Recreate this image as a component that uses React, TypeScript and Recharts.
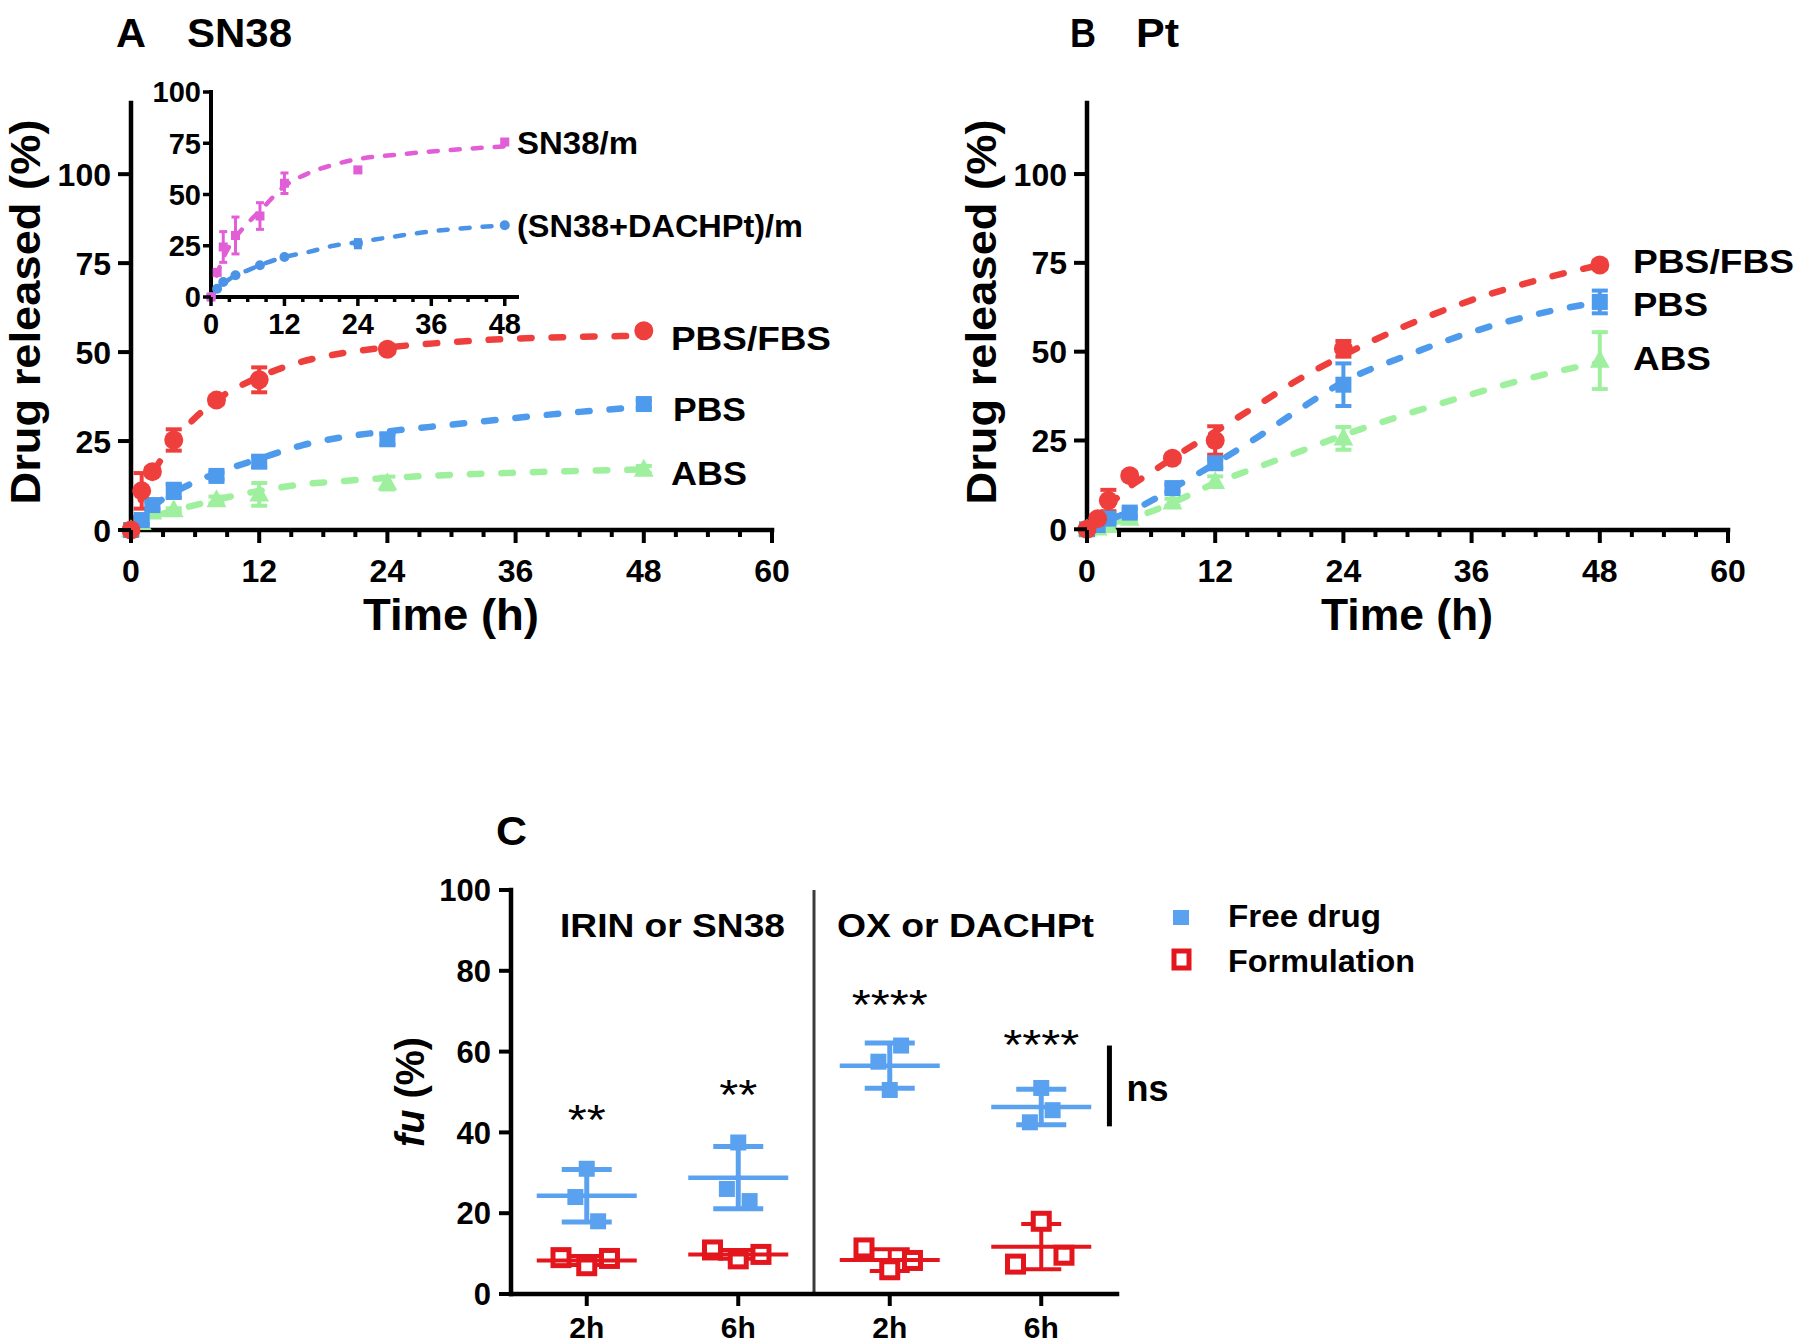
import React from 'react';
import { ComposedChart, Line, Scatter, XAxis, YAxis, ErrorBar, ReferenceLine } from 'recharts';

const FONT = "'Liberation Sans', Arial, Helvetica, sans-serif";
const W = 1800;
const H = 1344;

// ---------- Panel A (SN38) ----------
const TIME = [0, 1, 2, 4, 8, 12, 24, 48];
const A_PBSFBS = [0, 11, 16.4, 25.3, 36.5, 42.2, 50.8, 56];
const A_PBSFBS_SD = [0, 5, 1, 3, 1, 3.5, 1, 1];
const A_PBS = [0, 2.8, 7, 11, 15.2, 19.2, 25.5, 35.4];
const A_PBS_SD = [0, 1, 1, 2, 1, 1.5, 1.5, 1];
const A_ABS = [0, 2, 5, 5.6, 8.4, 10, 13.2, 17];
const A_ABS_SD = [0, 0.5, 0.5, 0.5, 1, 3.2, 1.8, 1];

const FIT_T = [0, 1, 2, 4, 6, 8, 12, 16, 20, 24, 30, 36, 42, 48];
const A_FIT_PBSFBS = [0, 9, 15.5, 25, 31.5, 36.5, 43, 47.3, 49.8, 51.3, 52.8, 53.8, 54.3, 54.6];
const A_FIT_PBS = [0, 3.5, 6.5, 10.5, 13.5, 16, 20, 23.8, 26.2, 27.7, 29.6, 31.5, 33.2, 34.6];
const A_FIT_ABS = [0, 2, 3.5, 5.5, 7, 8.5, 11, 12.8, 13.8, 14.6, 15.5, 16.1, 16.6, 17];

// ---------- Inset (A) ----------
const IN_SN38 = [0, 12, 24.4, 30, 39.5, 55.5, 62, 75.6];
const IN_SN38_SD = [0, 1, 7.5, 9, 6.5, 5, 1, 1];
const IN_COMBO = [0, 4, 7.3, 10.6, 15.5, 19.5, 26, 35];
const IN_COMBO_SD = [0, 0.5, 0.5, 0.5, 0.5, 0.5, 2, 0.5];
const IN_FIT_SN38 = [0, 11, 19, 29, 36, 42, 54, 60.5, 64.5, 67.3, 69.3, 71, 72.3, 73.5];
const IN_FIT_COMBO = [0, 4, 6.5, 10.5, 13, 15.5, 19.5, 22, 25, 26.8, 29.5, 32, 33.7, 35];

// ---------- Panel B (Pt) ----------
const B_PBSFBS = [0, 3, 8.1, 15.1, 20, 25, 50.8, 74.4];
const B_PBSFBS_SD = [0, 1, 3, 1, 1, 4, 2.2, 1];
const B_PBS = [0, 1.2, 3, 4.7, 11.6, 18.6, 40.7, 64];
const B_PBS_SD = [0, 0.5, 1, 1, 1, 1.2, 6, 3.2];
const B_ABS = [0, 0.3, 1, 3, 7.6, 13.4, 25.6, 47.5];
const B_ABS_SD = [0, 0.5, 0.5, 0.5, 1, 1.5, 3.2, 8];
const B_FIT_PBSFBS = [0, 3.5, 6.5, 12, 16, 20, 27.5, 35, 42.5, 49, 57.5, 64.5, 70, 74.4];
const B_FIT_PBS = [0, 1, 2.5, 5, 8, 11.5, 18.5, 26, 34, 41.5, 49, 55.5, 60.5, 64];
const B_FIT_ABS = [0, 0.5, 1.5, 3, 5, 7.5, 13, 17.5, 22, 26.5, 32.5, 38, 43, 47];

const MAIN_X_TICKS = [0, 3, 6, 9, 12, 15, 18, 21, 24, 27, 30, 33, 36, 39, 42, 45, 48, 51, 54, 57, 60];
const MAIN_X_MAJOR = [0, 12, 24, 36, 48, 60];
const MAIN_Y_TICKS = [0, 25, 50, 75, 100];
const IN_X_TICKS = [0, 3, 6, 9, 12, 15, 18, 21, 24, 27, 30, 33, 36, 39, 42, 45, 48];
const IN_X_MAJOR = [0, 12, 24, 36, 48];
const IN_Y_TICKS = [0, 25, 50, 75, 100];

// ---------- Panel C (fu) ----------
const C_LABELS = ['2h', '6h', '2h', '6h'];
const C_POS = [0.5, 1.5, 2.5, 3.5];
const C_FREE = [
  [31, 24, 18],
  [37.5, 26, 23],
  [50.5, 57.5, 61.5],
  [51, 42.5, 45.5],
];
const C_FREE_MEAN = [24.3, 28.8, 56.5, 46.3];
const C_FREE_SD = [6.5, 7.7, 5.6, 4.4];
const C_FORM = [
  [7, 9, 8.8],
  [8.7, 10.9, 9.8],
  [6, 11.4, 8.3],
  [18, 7.4, 9.6],
];
const C_FORM_MEAN = [8.3, 9.8, 8.4, 11.7];
const C_FORM_SD = [1.1, 1.1, 2.7, 5.6];
const C_Y_TICKS = [0, 20, 40, 60, 80, 100];
const C_STARS = ['**', '**', '****', '****'];
const C_STAR_Y = [45.5, 51.7, 74, 64];
const C_NS_RANGE = [41.5, 61.5];

// layout-only jitter of the column-scatter points (x units)
const JIT_FREE = [0, -0.075, 0.075];
const JIT_FORM = [0, -0.17, 0.15];

// colours
const RED = '#ef3f3d';
const BLUE = '#4e9bee';
const GREEN = '#9ef09e';
const PINK = '#e25ed6';
const IBLUE = '#4b93e6';
const C_BLUE = '#5aa2f0';
const C_RED = '#e3161d';

const pts = (t: number[], v: number[], e?: number[]) =>
  t.map((tt, i) => ({ t: tt, v: v[i], e: e ? e[i] : 0 }));

const AXIS = (sw: number) => ({ stroke: '#000', strokeWidth: sw, strokeLinecap: 'square' as const });

const xTick = (major: number[], majorLen: number, minorLen: number, sw: number, fs: number, dy: number, labels?: (v: number) => string) =>
  (p: any) => {
    const v = p.payload.value;
    const isMajor = major.includes(v);
    return (
      <g>
        <line x1={p.x} x2={p.x} y1={p.y} y2={p.y + (isMajor ? majorLen : minorLen)} stroke="#000" strokeWidth={sw} />
        {isMajor && (
          <text x={p.x} y={p.y + dy} textAnchor="middle" fontSize={fs} fontWeight="bold" fontFamily={FONT} fill="#000">
            {labels ? labels(v) : String(v)}
          </text>
        )}
      </g>
    );
  };

const yTick = (len: number, sw: number, fs: number, gap: number) => (p: any) => (
  <g>
    <line x1={p.x - len} x2={p.x} y1={p.y} y2={p.y} stroke="#000" strokeWidth={sw} />
    <text x={p.x - gap} y={p.y + fs * 0.36} textAnchor="end" fontSize={fs} fontWeight="bold" fontFamily={FONT} fill="#000">
      {p.payload.value}
    </text>
  </g>
);

const circle = (r: number, fill: string) => (p: any) => <circle cx={p.cx} cy={p.cy} r={r} fill={fill} />;
const square = (s: number, fill: string) => (p: any) => (
  <rect x={p.cx - s / 2} y={p.cy - s / 2} width={s} height={s} fill={fill} />
);
const triangle = (s: number, fill: string) => (p: any) => (
  <polygon
    points={`${p.cx},${p.cy - s * 0.6} ${p.cx - s * 0.55},${p.cy + s * 0.4} ${p.cx + s * 0.55},${p.cy + s * 0.4}`}
    fill={fill}
  />
);
const openSquare = (s: number, stroke: string, sw: number) => (p: any) => (
  <rect x={p.cx - s / 2} y={p.cy - s / 2} width={s} height={s} fill="#fff" stroke={stroke} strokeWidth={sw} />
);
const hbar = (half: number, stroke: string, sw: number) => (p: any) => (
  <line x1={p.cx - half} x2={p.cx + half} y1={p.cy} y2={p.cy} stroke={stroke} strokeWidth={sw} />
);

const Layer = ({ children }: { children: React.ReactNode }) => (
  <div style={{ position: 'absolute', left: 0, top: 0, width: W, height: H }}>{children}</div>
);

const fitLine = (data: any[], color: string, sw: number, dash: string) => (
  <Line
    data={data}
    dataKey="v"
    type="monotone"
    stroke={color}
    strokeWidth={sw}
    strokeDasharray={dash}
    strokeLinecap="round"
    dot={false}
    activeDot={false}
    isAnimationActive={false}
  />
);

const pointSeries = (data: any[], color: string, shape: any, capHalf: number, sw: number) => (
  <Scatter data={data} fill={color} shape={shape} isAnimationActive={false}>
    <ErrorBar dataKey="e" direction="y" width={capHalf} stroke={color} strokeWidth={sw} isAnimationActive={false} />
  </Scatter>
);

function ReleaseChart(props: {
  left: number;
  right: number;
  top: number;
  bottom: number;
  xMax: number;
  yMax: number;
  xTicks: number[];
  xMajor: number[];
  yTicks: number[];
  axisW: number;
  tickX: any;
  tickY: any;
  children: React.ReactNode;
}) {
  const { left, right, top, bottom, xMax, yMax, xTicks, yTicks, axisW, tickX, tickY } = props;
  return (
    <Layer>
      <ComposedChart width={W} height={H} margin={{ top, left: left - 60, right: W - right, bottom: H - bottom - 30 }}>
        <XAxis
          type="number"
          dataKey="t"
          domain={[0, xMax]}
          ticks={xTicks}
          interval={0}
          height={30}
          tickSize={0}
          tickMargin={0}
          tickLine={false}
          axisLine={AXIS(axisW)}
          tick={tickX}
        />
        <YAxis
          type="number"
          dataKey="v"
          domain={[0, yMax]}
          ticks={yTicks}
          interval={0}
          width={60}
          tickSize={0}
          tickMargin={0}
          tickLine={false}
          axisLine={AXIS(axisW)}
          tick={tickY}
        />
        {props.children}
      </ComposedChart>
    </Layer>
  );
}

const T = (p: {
  x: number;
  y: number;
  fs: number;
  tl?: number;
  anchor?: 'start' | 'middle' | 'end';
  weight?: string;
  rot?: boolean;
  children: React.ReactNode;
}) => {
  const common = {
    fontSize: p.fs,
    fontWeight: p.weight || 'bold',
    fontFamily: FONT,
    fill: '#000',
    textAnchor: p.anchor || 'start',
    ...(p.tl ? { textLength: p.tl, lengthAdjust: 'spacingAndGlyphs' } : {}),
  } as any;
  if (p.rot) {
    return (
      <text transform={`translate(${p.x},${p.y}) rotate(-90)`} x={0} y={0} {...common}>
        {p.children}
      </text>
    );
  }
  return (
    <text x={p.x} y={p.y} {...common}>
      {p.children}
    </text>
  );
};

export default function App() {
  const mainX = xTick(MAIN_X_MAJOR, 13, 7, 4, 32, 52);
  const mainY = yTick(13, 4, 32, 20);
  const inX = xTick(IN_X_MAJOR, 9, 5, 3.5, 29, 37);
  const inY = yTick(8, 3.5, 29, 10);
  const cX = xTick(C_POS, 12, 12, 4, 30, 44, (v) => C_LABELS[C_POS.indexOf(v)]);
  const cY = yTick(12, 4, 31, 20);

  const dashMain = '11.5 20';
  const dashIn = '9 13';

  const freePts = C_FREE.flatMap((vals, ci) => vals.map((v, k) => ({ t: C_POS[ci] + JIT_FREE[k], v })));
  const formPts = C_FORM.flatMap((vals, ci) => vals.map((v, k) => ({ t: C_POS[ci] + JIT_FORM[k], v })));
  const freeMean = C_POS.map((t, i) => ({ t, v: C_FREE_MEAN[i], e: C_FREE_SD[i] }));
  const formMean = C_POS.map((t, i) => ({ t, v: C_FORM_MEAN[i], e: C_FORM_SD[i] }));
  const stars = C_POS.map((t, i) => ({ t, v: C_STAR_Y[i], s: C_STARS[i] }));
  const nsPt = [{ t: 3.95, v: (C_NS_RANGE[0] + C_NS_RANGE[1]) / 2 }];

  return (
    <div style={{ position: 'relative', width: W, height: H, background: '#fff', overflow: 'hidden' }}>
      <style>{'body{margin:0}'}</style>

      {/* Panel A main */}
      <ReleaseChart
        left={131}
        right={772}
        top={103}
        bottom={530}
        xMax={60}
        yMax={120}
        xTicks={MAIN_X_TICKS}
        xMajor={MAIN_X_MAJOR}
        yTicks={MAIN_Y_TICKS}
        axisW={4.5}
        tickX={mainX}
        tickY={mainY}
      >
        {fitLine(pts(FIT_T, A_FIT_ABS), GREEN, 6.5, dashMain)}
        {fitLine(pts(FIT_T, A_FIT_PBS), BLUE, 6.5, dashMain)}
        {fitLine(pts(FIT_T, A_FIT_PBSFBS), RED, 6.5, dashMain)}
        {pointSeries(pts(TIME, A_ABS, A_ABS_SD), GREEN, triangle(18, GREEN), 8, 4)}
        {pointSeries(pts(TIME, A_PBS, A_PBS_SD), BLUE, square(16, BLUE), 8, 4)}
        {pointSeries(pts(TIME, A_PBSFBS, A_PBSFBS_SD), RED, circle(9.5, RED), 8, 4)}
      </ReleaseChart>

      {/* Inset */}
      <ReleaseChart
        left={211}
        right={517}
        top={92}
        bottom={297}
        xMax={50}
        yMax={100}
        xTicks={IN_X_TICKS}
        xMajor={IN_X_MAJOR}
        yTicks={IN_Y_TICKS}
        axisW={4}
        tickX={inX}
        tickY={inY}
      >
        {fitLine(pts(FIT_T, IN_FIT_COMBO), IBLUE, 4.5, dashIn)}
        {fitLine(pts(FIT_T, IN_FIT_SN38), PINK, 4.5, dashIn)}
        {pointSeries(pts(TIME, IN_COMBO, IN_COMBO_SD), IBLUE, circle(5, IBLUE), 4, 3)}
        {pointSeries(pts(TIME, IN_SN38, IN_SN38_SD), PINK, square(9, PINK), 4, 3)}
      </ReleaseChart>

      {/* Panel B */}
      <ReleaseChart
        left={1087}
        right={1728}
        top={103}
        bottom={530}
        xMax={60}
        yMax={120}
        xTicks={MAIN_X_TICKS}
        xMajor={MAIN_X_MAJOR}
        yTicks={MAIN_Y_TICKS}
        axisW={4.5}
        tickX={mainX}
        tickY={mainY}
      >
        {fitLine(pts(FIT_T, B_FIT_ABS), GREEN, 6.5, dashMain)}
        {fitLine(pts(FIT_T, B_FIT_PBS), BLUE, 6.5, dashMain)}
        {fitLine(pts(FIT_T, B_FIT_PBSFBS), RED, 6.5, dashMain)}
        {pointSeries(pts(TIME, B_ABS, B_ABS_SD), GREEN, triangle(18, GREEN), 8, 4)}
        {pointSeries(pts(TIME, B_PBS, B_PBS_SD), BLUE, square(16, BLUE), 8, 4)}
        {pointSeries(pts(TIME, B_PBSFBS, B_PBSFBS_SD), RED, circle(9.5, RED), 8, 4)}
      </ReleaseChart>

      {/* Panel C */}
      <Layer>
        <ComposedChart width={W} height={H} margin={{ top: 890, left: 511 - 60, right: W - 1117, bottom: H - 1294 - 30 }}>
          <XAxis
            type="number"
            dataKey="t"
            domain={[0, 4]}
            ticks={C_POS}
            interval={0}
            height={30}
            tickSize={0}
            tickMargin={0}
            tickLine={false}
            axisLine={AXIS(4.5)}
            tick={cX}
          />
          <YAxis
            type="number"
            dataKey="v"
            domain={[0, 100]}
            ticks={C_Y_TICKS}
            interval={0}
            width={60}
            tickSize={0}
            tickMargin={0}
            tickLine={false}
            axisLine={AXIS(4.5)}
            tick={cY}
          />
          <ReferenceLine x={2} stroke="#3c3c3c" strokeWidth={3} />
          <ReferenceLine
            segment={[
              { x: 3.95, y: C_NS_RANGE[0] },
              { x: 3.95, y: C_NS_RANGE[1] },
            ]}
            stroke="#000"
            strokeWidth={5}
          />
          <Scatter data={formPts} shape={openSquare(16, C_RED, 5)} isAnimationActive={false} />
          <Scatter data={freePts} shape={square(16, C_BLUE)} isAnimationActive={false} />
          <Scatter data={formMean} shape={hbar(50, C_RED, 4)} isAnimationActive={false}>
            <ErrorBar dataKey="e" direction="y" width={20} stroke={C_RED} strokeWidth={4} isAnimationActive={false} />
          </Scatter>
          <Scatter data={freeMean} shape={hbar(50, C_BLUE, 4.5)} isAnimationActive={false}>
            <ErrorBar dataKey="e" direction="y" width={25} stroke={C_BLUE} strokeWidth={5} isAnimationActive={false} />
          </Scatter>
          <Scatter
            data={stars}
            isAnimationActive={false}
            shape={(p: any) => (
              <text
                x={p.cx}
                y={p.cy + 24}
                textAnchor="middle"
                fontSize={42}
                fontFamily={FONT}
                fill="#000"
                textLength={p.payload.s.length * 19}
                lengthAdjust="spacingAndGlyphs"
              >
                {p.payload.s}
              </text>
            )}
          />
          <Scatter
            data={nsPt}
            isAnimationActive={false}
            shape={(p: any) => (
              <text x={p.cx + 17} y={p.cy + 15} fontSize={36} fontWeight="bold" fontFamily={FONT} fill="#000">
                ns
              </text>
            )}
          />
        </ComposedChart>
      </Layer>

      {/* Text overlay */}
      <svg width={W} height={H} style={{ position: 'absolute', left: 0, top: 0 }}>
        <T x={116} y={46.5} fs={40} tl={30}>A</T>
        <T x={187} y={46.5} fs={40} tl={105}>SN38</T>
        <T x={1070} y={46.5} fs={40} tl={26}>B</T>
        <T x={1136} y={46.5} fs={40} tl={43}>Pt</T>
        <T x={496} y={845} fs={40} tl={31}>C</T>

        <T x={40} y={312} fs={43} tl={385} anchor="middle" rot>Drug released (%)</T>
        <T x={996} y={312} fs={43} tl={385} anchor="middle" rot>Drug released (%)</T>
        <T x={451} y={630} fs={44} tl={176} anchor="middle">Time (h)</T>
        <T x={1407} y={630} fs={44} tl={172} anchor="middle">Time (h)</T>

        <T x={671} y={350} fs={34} tl={160}>PBS/FBS</T>
        <T x={673} y={421} fs={34} tl={73}>PBS</T>
        <T x={671} y={485} fs={34} tl={76}>ABS</T>
        <T x={1633} y={273} fs={34} tl={161}>PBS/FBS</T>
        <T x={1633} y={316} fs={34} tl={75}>PBS</T>
        <T x={1633} y={370} fs={34} tl={78}>ABS</T>

        <T x={517} y={154} fs={31} tl={121}>SN38/m</T>
        <T x={517} y={237} fs={31} tl={286}>(SN38+DACHPt)/m</T>

        <T x={424} y={1092} fs={40} tl={110} anchor="middle" rot>
          <tspan fontStyle="italic">fu</tspan> (%)
        </T>
        <T x={560} y={937} fs={33} tl={225}>IRIN or SN38</T>
        <T x={837} y={937} fs={33} tl={257}>OX or DACHPt</T>

        <rect x={1173} y={910} width={16} height={15} fill={C_BLUE} />
        <rect x={1174} y={951} width={15} height={17} fill="#fff" stroke={C_RED} strokeWidth={5} />
        <T x={1228} y={927} fs={31} tl={153}>Free drug</T>
        <T x={1228} y={972} fs={31} tl={187}>Formulation</T>
      </svg>
    </div>
  );
}
